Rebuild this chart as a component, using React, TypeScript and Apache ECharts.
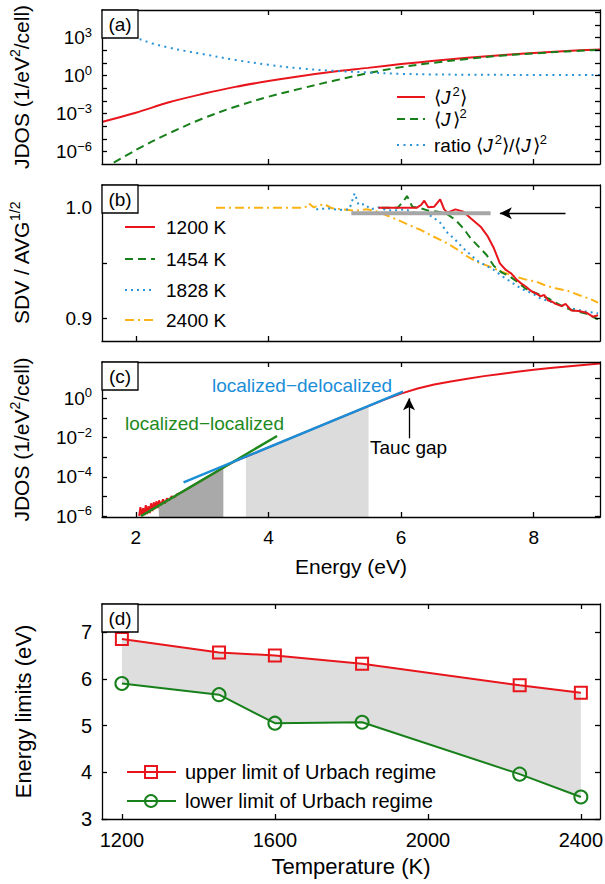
import { useEffect, useRef } from 'react';
import * as echarts from 'echarts';

const FONT = '"Liberation Sans", Arial, Helvetica, sans-serif';
const RED = '#e8161c';
const GREEN = '#17801a';
const BLUE = '#2a93d8';
const ORANGE = '#fbb214';

// ---------------- Panel (a): JDOS (log10 values) ----------------
const energyA = [1.5, 2.0, 2.5, 3.0, 3.5, 4.0, 4.5, 5.0, 5.5, 6.0, 6.5, 7.0, 7.5, 8.0, 8.5, 9.0];
const logJ2A = [-3.63, -2.92, -2.1, -1.45, -0.88, -0.42, -0.02, 0.33, 0.62, 0.92, 1.18, 1.42, 1.62, 1.8, 1.95, 2.08];
const logJsqA = [-7.39, -5.87, -4.55, -3.4, -2.45, -1.66, -1.0, -0.38, 0.2, 0.68, 1.03, 1.33, 1.58, 1.76, 1.92, 2.04];
const energyRatioA = [1.5, 1.75, 2.0, 2.25, 2.5, 2.75, 3.0, 3.5, 4.0, 4.5, 5.0, 5.5, 6.0, 6.5, 7.0, 8.0, 9.0];
const logRatioA = [3.9, 3.45, 3.0, 2.55, 2.22, 1.95, 1.72, 1.25, 0.86, 0.57, 0.38, 0.26, 0.15, 0.1, 0.08, 0.06, 0.05];

// ---------------- Panel (b): SDV / AVG^1/2 ----------------
const e1200 = [5.66, 6.24, 6.3, 6.35, 6.41, 6.5, 6.59, 6.65, 6.7, 6.82, 6.94, 7.05, 7.2, 7.31, 7.4, 7.49, 7.58, 7.66, 7.75, 7.81, 7.87, 7.93, 7.98, 8.04, 8.1, 8.16, 8.22, 8.28, 8.33, 8.42, 8.48, 8.57, 8.68, 8.8, 8.89, 8.97];
const s1200 = [1.0, 1.0, 1.0024, 1.0063, 1.0003, 1.0009, 1.0075, 0.9985, 0.9955, 0.9985, 0.9964, 0.9904, 0.9828, 0.9738, 0.9633, 0.9497, 0.9437, 0.9407, 0.9346, 0.9316, 0.9292, 0.9262, 0.924, 0.9226, 0.92, 0.921, 0.916, 0.915, 0.913, 0.911, 0.913, 0.907, 0.9066, 0.905, 0.9015, 0.9027];
const e1454 = [5.71, 5.95, 6.03, 6.09, 6.17, 6.3, 6.41, 6.56, 6.7, 6.82, 6.94, 7.05, 7.17, 7.29, 7.4, 7.52, 7.63, 7.75, 7.87, 7.98, 8.1, 8.22, 8.33, 8.45, 8.57, 8.68, 8.8, 8.97];
const s1454 = [1.0, 1.0, 1.0054, 1.0105, 1.0009, 0.9994, 0.9973, 0.9964, 0.994, 0.9889, 0.9813, 0.9723, 0.9648, 0.9572, 0.9473, 0.9413, 0.9383, 0.9331, 0.9271, 0.924, 0.921, 0.918, 0.9142, 0.9105, 0.9075, 0.906, 0.904, 0.899];
const e1828 = [4.72, 4.9, 5.07, 5.22, 5.3, 5.36, 5.45, 5.54, 5.66, 5.77, 5.89, 6.06, 6.24, 6.35, 6.47, 6.59, 6.7, 6.82, 6.94, 7.05, 7.17, 7.29, 7.4, 7.52, 7.63, 7.75, 7.87, 7.98, 8.1, 8.33, 8.57, 8.8, 8.97];
const s1828 = [0.9985, 0.9994, 0.9979, 0.9985, 1.013, 1.0024, 1.0033, 0.9985, 1.0003, 0.9979, 0.9973, 0.9985, 0.9949, 0.9955, 0.9919, 0.9864, 0.9774, 0.9708, 0.9633, 0.9572, 0.9512, 0.9473, 0.9437, 0.9383, 0.934, 0.9292, 0.925, 0.9226, 0.918, 0.9136, 0.909, 0.906, 0.9045];
const e2400 = [3.21, 4.55, 4.61, 4.68, 4.84, 4.96, 5.13, 5.31, 5.48, 5.66, 5.77, 5.95, 6.12, 6.3, 6.47, 6.65, 6.82, 6.99, 7.17, 7.34, 7.52, 7.69, 7.87, 8.04, 8.16, 8.33, 8.51, 8.68, 8.86, 8.97];
const s2400 = [1.0, 1.0, 1.0039, 1.0003, 1.0033, 0.9994, 0.9985, 0.9973, 0.9985, 0.9964, 0.9934, 0.9889, 0.9843, 0.9798, 0.9744, 0.9693, 0.9633, 0.9563, 0.9503, 0.9467, 0.9422, 0.9383, 0.9352, 0.9331, 0.9301, 0.9271, 0.925, 0.9211, 0.9172, 0.9142];
const refLineEnergy = [5.25, 7.35];
const refLineValue = [0.995, 0.995];
const arrowBEnergy = [8.48, 7.49];
const arrowBValue = 0.995;

// ---------------- Panel (c): JDOS with fits (log10 values) ----------------
const energyC = [2.05, 2.07, 2.09, 2.11, 2.13, 2.15, 2.17, 2.19, 2.21, 2.23, 2.25, 2.27, 2.29, 2.31, 2.33, 2.35, 2.38, 2.41, 2.44, 2.47, 2.5, 2.54, 2.58, 2.62, 2.7, 2.8, 3.0, 3.2, 3.35, 3.5, 3.75, 4.0, 4.5, 5.0, 5.5, 5.75, 6.0, 6.25, 6.5, 6.75, 7.0, 7.25, 7.5, 7.75, 8.0, 8.25, 8.5, 8.75, 9.0];
const logJdosC = [-6.0, -5.55, -6.0, -5.6, -5.95, -5.45, -5.9, -5.5, -5.85, -5.35, -5.75, -5.3, -5.65, -5.25, -5.6, -5.2, -5.45, -5.15, -5.35, -5.1, -5.2, -5.0, -5.05, -4.9, -4.77, -4.57, -4.17, -3.77, -3.47, -3.2, -2.85, -2.5, -1.8, -1.1, -0.41, -0.07, 0.24, 0.5, 0.7, 0.86, 1.0, 1.13, 1.24, 1.35, 1.45, 1.54, 1.62, 1.7, 1.77];
const fitLocLocEnergy = [2.08, 4.13];
const fitLocLocLog = [-6.0, -1.92];
const fitLocDelEnergy = [2.72, 6.03];
const fitLocDelLog = [-4.29, 0.34];
const shadeDarkRange = [2.34, 3.32];
const shadeLightRange = [3.66, 5.51];
const taucEnergy = 6.12;
const taucArrowLog = [-2.04, 0.0];

// ---------------- Panel (d): Urbach regime limits ----------------
const temps = [1200, 1454, 1600, 1828, 2240, 2400];
const upperLimit = [6.85, 6.56, 6.5, 6.32, 5.86, 5.7];
const lowerLimit = [5.9, 5.66, 5.05, 5.07, 3.96, 3.47];

// ---------------- Ticks ----------------
const energyTicks = [2, 4, 6, 8];
const logTicksA = [-6, -5, -4, -3, -2, -1, 0, 1, 2, 3, 4, 5];
const logLabelsA = [-6, -3, 0, 3];
const sdvTicks = [0.9, 0.95, 1.0];
const sdvLabels = [0.9, 1.0];
const logTicksC = [-6, -5, -4, -3, -2, -1, 0, 1];
const logLabelsC = [-6, -4, -2, 0];
const tempTicks = [1200, 1600, 2000, 2400];
const limitTicks = [3, 4, 5, 6, 7];

const zip = (xs: number[], ys: number[]) => xs.map((x, i) => [x, ys[i]]);

function interp(xs: number[], ys: number[], x: number) {
  for (let i = 0; i < xs.length - 1; i++) {
    if (x >= xs[i] && x <= xs[i + 1]) {
      const t = (x - xs[i]) / (xs[i + 1] - xs[i]);
      return ys[i] + t * (ys[i + 1] - ys[i]);
    }
  }
  return ys[ys.length - 1];
}

function shade(xs: number[], ys: number[], range: number[]) {
  const [a, b] = range;
  const pts: number[][] = [[a, interp(xs, ys, a)]];
  xs.forEach((x, i) => {
    if (x > a && x < b) pts.push([x, ys[i]]);
  });
  pts.push([b, interp(xs, ys, b)]);
  return pts;
}

const AXLINE = { color: '#000', width: 1.3 };
const TICK_FS = 19;
const NAME_FS = 21;

const logRich = {
  b: { fontFamily: FONT, fontSize: TICK_FS, color: '#000', lineHeight: 24 },
  s: { fontFamily: FONT, fontSize: 13, color: '#000', lineHeight: 12, verticalAlign: 'top' },
};
const nameRich = {
  t: { fontFamily: FONT, fontSize: NAME_FS, color: '#000', lineHeight: 26 },
  s: { fontFamily: FONT, fontSize: 14, color: '#000', lineHeight: 14, verticalAlign: 'top' },
};

const expFmt = (v: number) => `{b|10}{s|${v < 0 ? '\u2212' + -v : v}}`;

function xPair(grid: number, min: number, max: number, ticks: number[], labels: number[] | null, name?: string, nameGap?: number, tickFs = TICK_FS, nameFs = NAME_FS) {
  const base = {
    type: 'value',
    gridIndex: grid,
    min,
    max,
    z: 10,
    splitLine: { show: false },
    axisLine: { show: true, onZero: false, lineStyle: AXLINE },
    axisTick: { show: true, inside: true, length: 5, customValues: ticks, lineStyle: AXLINE },
  };
  return [
    {
      ...base,
      position: 'bottom',
      axisLabel: labels
        ? { show: true, customValues: labels, fontFamily: FONT, fontSize: tickFs, color: '#000', margin: 11, formatter: (v: number) => String(v) }
        : { show: false },
      name: name || '',
      nameLocation: 'middle',
      nameGap: nameGap || 30,
      nameTextStyle: { fontFamily: FONT, fontSize: nameFs, color: '#000' },
    },
    { ...base, position: 'top', axisLabel: { show: false } },
  ];
}

function yPair(grid: number, min: number, max: number, ticks: number[], labels: number[], fmt: any, rich: any, name: string, nameGap = 68, tickFs = TICK_FS, nameFs = NAME_FS) {
  const base = {
    type: 'value',
    gridIndex: grid,
    min,
    max,
    z: 10,
    splitLine: { show: false },
    axisLine: { show: true, onZero: false, lineStyle: AXLINE },
    axisTick: { show: true, inside: true, length: 5, customValues: ticks, lineStyle: AXLINE },
  };
  return [
    {
      ...base,
      position: 'left',
      axisLabel: { show: true, customValues: labels, fontFamily: FONT, fontSize: tickFs, color: '#000', margin: 10, formatter: fmt, rich },
      name,
      nameLocation: 'middle',
      nameRotate: 90,
      nameGap,
      nameTextStyle: { fontFamily: FONT, fontSize: nameFs, color: '#000', rich: nameRich },
    },
    { ...base, position: 'right', axisLabel: { show: false } },
  ];
}

function lineSeries(name: string, panel: number, data: number[][], color: string, width: number, type: any, extra: any = {}) {
  return {
    name,
    type: 'line',
    xAxisIndex: panel * 2,
    yAxisIndex: panel * 2,
    data,
    symbol: 'none',
    showSymbol: false,
    lineStyle: { color, width, type, cap: 'butt' },
    itemStyle: { color },
    animation: false,
    silent: true,
    ...extra,
  };
}

function buildOption() {
  const grids = [
    { left: 102, top: 10, width: 498, height: 154 },
    { left: 102, top: 185, width: 498, height: 156 },
    { left: 102, top: 362, width: 498, height: 155 },
    { left: 102, top: 604, width: 498, height: 215 },
  ].map((g) => ({ ...g, containLabel: false, outerBoundsMode: 'none', show: false }));

  const xAxis = [
    ...xPair(0, 1.49, 9.0, energyTicks, null),
    ...xPair(1, 1.49, 9.0, energyTicks, null),
    ...xPair(2, 1.49, 9.0, energyTicks, energyTicks, 'Energy (eV)', 39),
    ...xPair(3, 1148, 2450, tempTicks, tempTicks, 'Temperature (K)', 36, 20, 22),
  ];
  const yAxis = [
    ...yPair(0, -6.97, 5.19, logTicksA, logLabelsA, expFmt, logRich, '{t|JDOS (1/eV}{s|2}{t|/cell)}'),
    ...yPair(1, 0.8795, 1.0205, sdvTicks, sdvLabels, (v: number) => v.toFixed(1), undefined, '{t|SDV / AVG}{s|1/2}'),
    ...yPair(2, -6.05, 1.85, logTicksC, logLabelsC, expFmt, logRich, '{t|JDOS (1/eV}{s|2}{t|/cell)}'),
    ...yPair(3, 3, 7.6, limitTicks, limitTicks, (v: number) => String(v), undefined, 'Energy limits (eV)', 68, 20, 22),
  ];

  const series: any[] = [
    // (a)
    lineSeries('J2', 0, zip(energyA, logJ2A), RED, 2, 'solid', { smooth: 0.35 }),
    lineSeries('Jsq', 0, zip(energyA, logJsqA), GREEN, 2, [8, 5], { smooth: 0.35 }),
    lineSeries('ratio', 0, zip(energyRatioA, logRatioA), BLUE, 2, [2, 4.5], { smooth: 0.35 }),
    // (b)
    lineSeries('2400 K', 1, zip(e2400, s2400), ORANGE, 2, [9, 4, 2, 4]),
    lineSeries('1828 K', 1, zip(e1828, s1828), BLUE, 2, [2, 4]),
    lineSeries('1454 K', 1, zip(e1454, s1454), GREEN, 2, [8, 5]),
    lineSeries('1200 K', 1, zip(e1200, s1200), RED, 2, 'solid'),
    lineSeries('ref', 1, zip(refLineEnergy, refLineValue), '#a6a6a6', 4, 'solid', {
      z: 5,
      markLine: {
        silent: true,
        animation: false,
        symbol: ['none', 'arrow'],
        symbolSize: [9, 12],
        label: { show: false },
        lineStyle: { color: '#000', width: 1.3, type: 'solid' },
        data: [[{ coord: [arrowBEnergy[0], arrowBValue] }, { coord: [arrowBEnergy[1], arrowBValue] }]],
      },
    }),
    // (c)
    lineSeries('shadeDark', 2, shade(energyC, logJdosC, shadeDarkRange), '#a9a9a9', 0, 'solid', {
      areaStyle: { color: '#a9a9a9', opacity: 1, origin: 'start' },
    }),
    lineSeries('shadeLight', 2, shade(energyC, logJdosC, shadeLightRange), '#dcdcdc', 0, 'solid', {
      areaStyle: { color: '#dcdcdc', opacity: 1, origin: 'start' },
    }),
    lineSeries('jdosC', 2, zip(energyC, logJdosC), RED, 2, 'solid', {
      markLine: {
        silent: true,
        animation: false,
        symbol: ['none', 'arrow'],
        symbolSize: [9, 12],
        label: { show: false },
        lineStyle: { color: '#000', width: 1.3, type: 'solid' },
        data: [[{ coord: [taucEnergy, taucArrowLog[0]] }, { coord: [taucEnergy, taucArrowLog[1]] }]],
      },
    }),
    lineSeries('locloc', 2, zip(fitLocLocEnergy, fitLocLocLog), '#1e8a1e', 2.5, 'solid'),
    lineSeries('locdel', 2, zip(fitLocDelEnergy, fitLocDelLog), '#1b8ed8', 2.5, 'solid'),
    // (d) band between limits, drawn through the axes' coordinate system
    {
      type: 'custom',
      name: 'band',
      xAxisIndex: 6,
      yAxisIndex: 6,
      silent: true,
      animation: false,
      z: 1,
      data: [[temps[0], lowerLimit[0]]],
      renderItem: (_params: any, api: any) => {
        const top = temps.map((t, i) => api.coord([t, upperLimit[i]]));
        const bottom = temps.map((t, i) => api.coord([t, lowerLimit[i]])).reverse();
        return { type: 'polygon', shape: { points: top.concat(bottom) }, style: { fill: '#dedede' } };
      },
    },
    lineSeries('upper limit of Urbach regime', 3, zip(temps, upperLimit), RED, 2, 'solid', {
      symbol: 'rect',
      showSymbol: true,
      symbolSize: 12,
      z: 3,
      itemStyle: { color: 'rgba(0,0,0,0)', borderColor: RED, borderWidth: 2 },
    }),
    lineSeries('lower limit of Urbach regime', 3, zip(temps, lowerLimit), GREEN, 2, 'solid', {
      symbol: 'circle',
      showSymbol: true,
      symbolSize: 13,
      z: 3,
      itemStyle: { color: 'rgba(0,0,0,0)', borderColor: GREEN, borderWidth: 2 },
    }),
  ];

  const textStyle = (size: number, fill = '#000') => ({ fontFamily: FONT, fontSize: size, fill });
  const g: any[] = [];

  // panel labels
  [['(a)', 10], ['(b)', 185], ['(c)', 362], ['(d)', 604]].forEach(([t, y]: any) => {
    g.push({ type: 'rect', z: 100, shape: { x: 102, y, width: 36, height: 28 }, style: { fill: '#fff', stroke: '#000', lineWidth: 1.3 } });
    g.push({ type: 'text', z: 101, x: 120, y: y + 14, style: { ...textStyle(19), text: t, align: 'center', verticalAlign: 'middle' } });
  });

  const richLeg = {
    t: { fontFamily: FONT, fontSize: 19, fill: '#000', lineHeight: 24 },
    i: { fontFamily: FONT, fontSize: 19, fill: '#000', fontStyle: 'italic', lineHeight: 24, padding: [0, 2, 0, 0] },
    s: { fontFamily: FONT, fontSize: 13, fill: '#000', lineHeight: 12, verticalAlign: 'top' },
  };
  // legend (a)
  const legA: any[] = [
    [97, RED, null, '{t|\u27E8}{i|J}{s|2}{t|\u27E9}'],
    [119, GREEN, [8, 5], '{t|\u27E8}{i|J}{t|\u27E9}{s|2}'],
    [145, BLUE, [2, 4.5], '{t|ratio \u27E8}{i|J}{s|2}{t|\u27E9/\u27E8}{i|J}{t|\u27E9}{s|2}'],
  ];
  legA.forEach(([y, c, d, txt]) => {
    g.push({ type: 'line', z: 100, shape: { x1: 397, y1: y, x2: 425, y2: y }, style: { stroke: c, lineWidth: 2, lineDash: d || undefined } });
    g.push({ type: 'text', z: 100, x: 434, y, style: { text: txt, rich: richLeg, fontFamily: FONT, fontSize: 19, verticalAlign: 'middle', align: 'left' } });
  });

  // legend (b)
  const legB: any[] = [
    [227, RED, null, '1200 K'],
    [259, GREEN, [8, 5], '1454 K'],
    [290, BLUE, [2, 4], '1828 K'],
    [320, ORANGE, [9, 4, 2, 4], '2400 K'],
  ];
  legB.forEach(([y, c, d, txt]) => {
    g.push({ type: 'line', z: 100, shape: { x1: 125, y1: y, x2: 155, y2: y }, style: { stroke: c, lineWidth: 2, lineDash: d || undefined } });
    g.push({ type: 'text', z: 100, x: 166, y, style: { ...textStyle(19), text: txt, verticalAlign: 'middle', align: 'left' } });
  });

  // annotations (c)
  g.push({ type: 'text', z: 100, x: 212, y: 385, style: { ...textStyle(19, '#1b8ed8'), text: 'localized\u2212delocalized', verticalAlign: 'middle' } });
  g.push({ type: 'text', z: 100, x: 125, y: 423, style: { ...textStyle(19, '#1e8a1e'), text: 'localized\u2212localized', verticalAlign: 'middle' } });
  g.push({ type: 'text', z: 100, x: 370, y: 447, style: { ...textStyle(19), text: 'Tauc gap', verticalAlign: 'middle' } });

  // legend (d)
  g.push({ type: 'line', z: 100, shape: { x1: 127, y1: 772, x2: 176, y2: 772 }, style: { stroke: RED, lineWidth: 2 } });
  g.push({ type: 'rect', z: 101, shape: { x: 145, y: 766, width: 12, height: 12 }, style: { fill: 'none', stroke: RED, lineWidth: 2 } });
  g.push({ type: 'text', z: 100, x: 185, y: 772, style: { ...textStyle(20), text: 'upper limit of Urbach regime', verticalAlign: 'middle' } });
  g.push({ type: 'line', z: 100, shape: { x1: 127, y1: 801, x2: 176, y2: 801 }, style: { stroke: GREEN, lineWidth: 2 } });
  g.push({ type: 'circle', z: 101, shape: { cx: 151, cy: 801, r: 6 }, style: { fill: 'none', stroke: GREEN, lineWidth: 2 } });
  g.push({ type: 'text', z: 100, x: 185, y: 801, style: { ...textStyle(20), text: 'lower limit of Urbach regime', verticalAlign: 'middle' } });

  return {
    animation: false,
    backgroundColor: '#fff',
    textStyle: { fontFamily: FONT },
    grid: grids,
    xAxis,
    yAxis,
    series,
    graphic: { elements: g },
  };
}

export default function App() {
  const ref = useRef<HTMLDivElement>(null);
  useEffect(() => {
    document.body.style.margin = '0';
    const chart = echarts.init(ref.current as HTMLDivElement, null, { renderer: 'svg' });
    chart.setOption(buildOption() as any);
    return () => chart.dispose();
  }, []);
  return <div ref={ref} style={{ width: 605, height: 884, background: '#fff' }} />;
}
